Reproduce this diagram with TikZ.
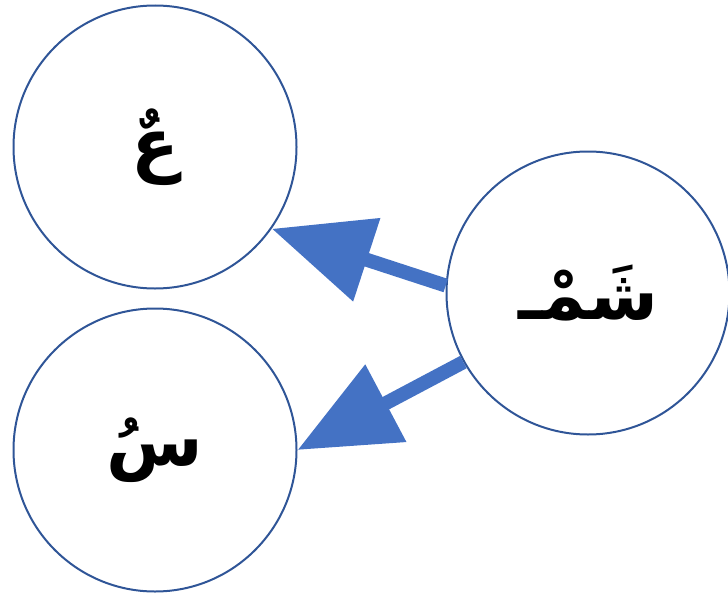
\documentclass[tikz,border=0pt]{standalone}
\usepackage{fontspec}
\newfontfamily\arabicfont[Script=Arabic]{DejaVu Sans}
\TeXXeTstate=1
\usetikzlibrary{arrows.meta}
\definecolor{ringblue}{HTML}{2F5597}
\definecolor{arrowblue}{HTML}{4472C4}
\begin{document}
\begin{tikzpicture}[x=1pt, y=-1pt, thick,
    letter/.style = {draw=ringblue, line width=2pt, circle, minimum size=283pt, inner sep=0pt,
                     font=\fontsize{70}{80}\selectfont\arabicfont\bfseries},
    bigarrow/.style = {arrowblue, line width=14pt, -{Triangle[length=100pt, width=84pt]}}]
    \useasboundingbox (0,0) rectangle (728,597);
    \node[letter] (ain) at (155,147) {\beginR عٌ\endR};
    \node[letter] (sin) at (155,450) {\beginR سُ\endR};
    \node[letter] (shm) at (588,293) {\beginR شَمْـ\endR};
    \draw[bigarrow] (shm.177) -- (ain.-35);
    \draw[bigarrow] (shm.209) -- (sin.0);
\end{tikzpicture}
\end{document}
